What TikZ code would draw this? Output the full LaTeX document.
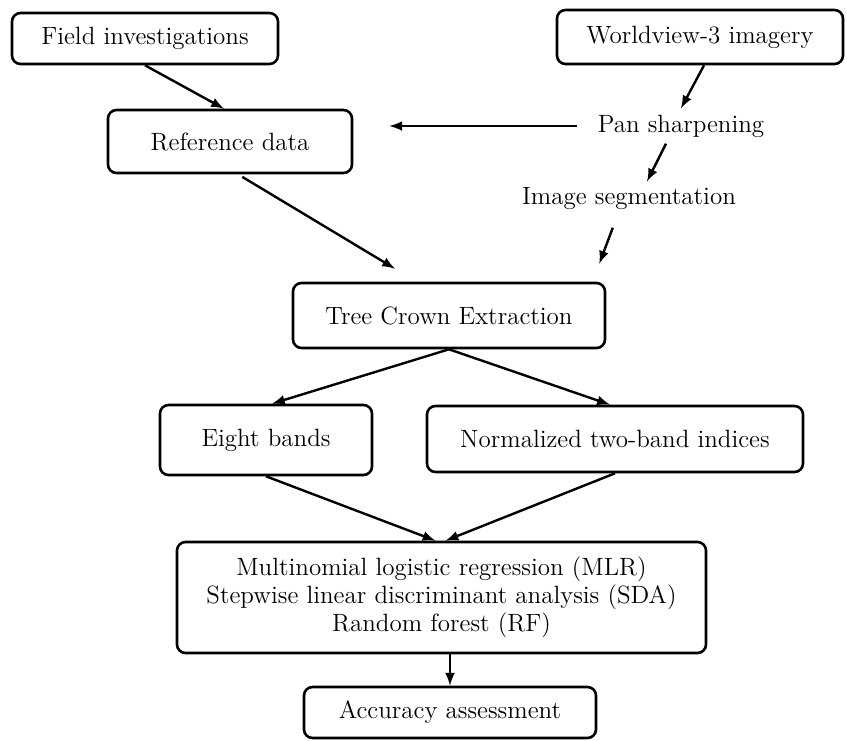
\documentclass[tikz,border=0pt]{standalone}
\usepackage{tikz}
\usetikzlibrary{positioning,arrows,calc}
\tikzstyle{stage} = [
rounded corners=0.15cm,
line width=1.3pt,
draw=black,
inner sep=2pt
]
\tikzstyle{plainstage} = [
inner sep=3pt
]
\tikzstyle{flow} = [
->,
>=latex,
line width=1.2pt
]

\begin{document}
\begin{tikzpicture}[
	x=0.5pt,
	y=-0.5pt,
	align=center,
	font=\fontsize{12.5}{14}\selectfont
	]
	\useasboundingbox (0,0) rectangle (847,740);
	
	% inputs
	\node[stage,minimum width=133pt,minimum height=25.5pt] (field) at (145,38.5) {Field investigations};
	\node[stage,minimum width=143pt,minimum height=27pt] (world) at (700,37) {Worldview-3 imagery};
	\node[stage,minimum width=122pt,minimum height=31.5pt] (ref) at (230,141.5) {Reference data};
	\node[plainstage] (pan) at (681,126) {Pan sharpening};
	\node[plainstage] (seg) at (629,199) {Image segmentation};
	
	% extraction and features
	\node[stage,minimum width=156pt,minimum height=32.5pt] (crown) at (449,315.5) {Tree Crown Extraction};
	\node[stage,minimum width=106pt,minimum height=35pt] (eight) at (266,440) {Eight bands};
	\node[stage,minimum width=188pt,minimum height=33pt] (ndi) at (615,439) {Normalized two-band indices};
	
	% classifiers
	\node[stage,minimum width=264.5pt,minimum height=55.5pt] (clf) at (441.5,597.5) {Multinomial logistic regression (MLR)\\Stepwise linear discriminant analysis (SDA)\\Random forest (RF)};
	\node[stage,minimum width=146pt,minimum height=25.5pt] (acc) at (450,712.5) {Accuracy assessment};
	
	\draw[flow] (field.south) -- ([xshift=-3pt]ref.north);
	\draw[flow] ([xshift=2pt]world.south) -- (pan.north);
	\draw[flow,shorten <=7pt,shorten >=18pt] (pan.west) -- (pan.west -| ref.east);
	\draw[flow] ([xshift=-7.5pt]pan.south) -- ([xshift=9pt]seg.north);
	\draw[flow,shorten <=6pt] ([xshift=-6pt]seg.south) -- ([xshift=-3.5pt,yshift=9pt]crown.north east);
	\draw[flow,shorten <=2.5pt] ([xshift=4pt]ref.south) -- ([xshift=-27pt,yshift=6.5pt]crown.north);
	\draw[flow] (crown.south) -- ([xshift=3pt]eight.north);
	\draw[flow] (crown.south) -- ([xshift=-2.5pt]ndi.north);
	\draw[flow] (eight.south) -- ([xshift=-3pt]clf.north);
	\draw[flow] (ndi.south) -- ([xshift=2pt]clf.north);
	\draw[flow] (acc.north |- clf.south) -- (acc.north);
\end{tikzpicture}
\end{document}
